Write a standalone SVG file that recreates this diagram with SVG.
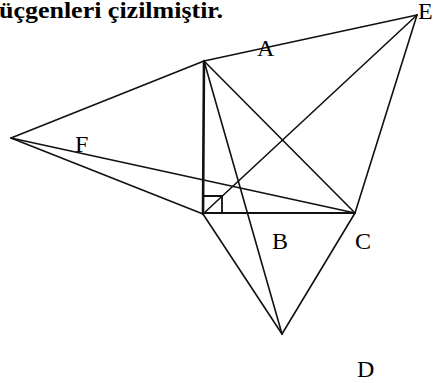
<svg xmlns="http://www.w3.org/2000/svg" width="433" height="383" viewBox="0 0 433 383">
<style>
.ln{stroke:#111;stroke-width:1.6;fill:none;stroke-linecap:round}
.lbl{font-family:'Liberation Serif','Times New Roman','DejaVu Serif',serif;font-size:24px;fill:#000}
.title{font-family:'Liberation Serif','Times New Roman','DejaVu Serif',serif;font-size:24px;font-weight:bold;fill:#000}
</style>
<rect width="433" height="383" fill="#fff"/>
<text class="title" x="-1" y="18" textLength="224" lengthAdjust="spacingAndGlyphs">üçgenleri çizilmiştir.</text>
<g id="connectors">
<line class="ln" x1="11" y1="138" x2="204" y2="61"/>
<line class="ln" x1="11" y1="138" x2="355" y2="213"/>
<line class="ln" x1="11" y1="138" x2="203" y2="214"/>
<line class="ln" x1="204" y1="61" x2="417" y2="15"/>
<line class="ln" x1="204" y1="61" x2="203" y2="214" style="stroke-width:2.6"/>
<line class="ln" x1="203" y1="213" x2="355" y2="213" style="stroke-width:2"/>
<line class="ln" x1="204" y1="61" x2="355" y2="213"/>
<line class="ln" x1="204" y1="61" x2="282" y2="334"/>
<line class="ln" x1="203" y1="214" x2="282" y2="334"/>
<line class="ln" x1="355" y1="213" x2="282" y2="334"/>
<line class="ln" x1="203" y1="214" x2="417" y2="15"/>
<line class="ln" x1="355" y1="213" x2="417" y2="15"/>
<polyline class="ln" points="203,196 222,196 222,213" style="stroke-width:1.8"/>
</g>
<g id="node-A"><text class="lbl" x="257" y="56">A</text></g>
<g id="node-E"><text class="lbl" x="418" y="19">E</text></g>
<g id="node-F"><text class="lbl" x="75" y="152">F</text></g>
<g id="node-B"><text class="lbl" x="272" y="249">B</text></g>
<g id="node-C"><text class="lbl" x="355" y="249">C</text></g>
<g id="node-D"><text class="lbl" x="357" y="377">D</text></g>
</svg>
